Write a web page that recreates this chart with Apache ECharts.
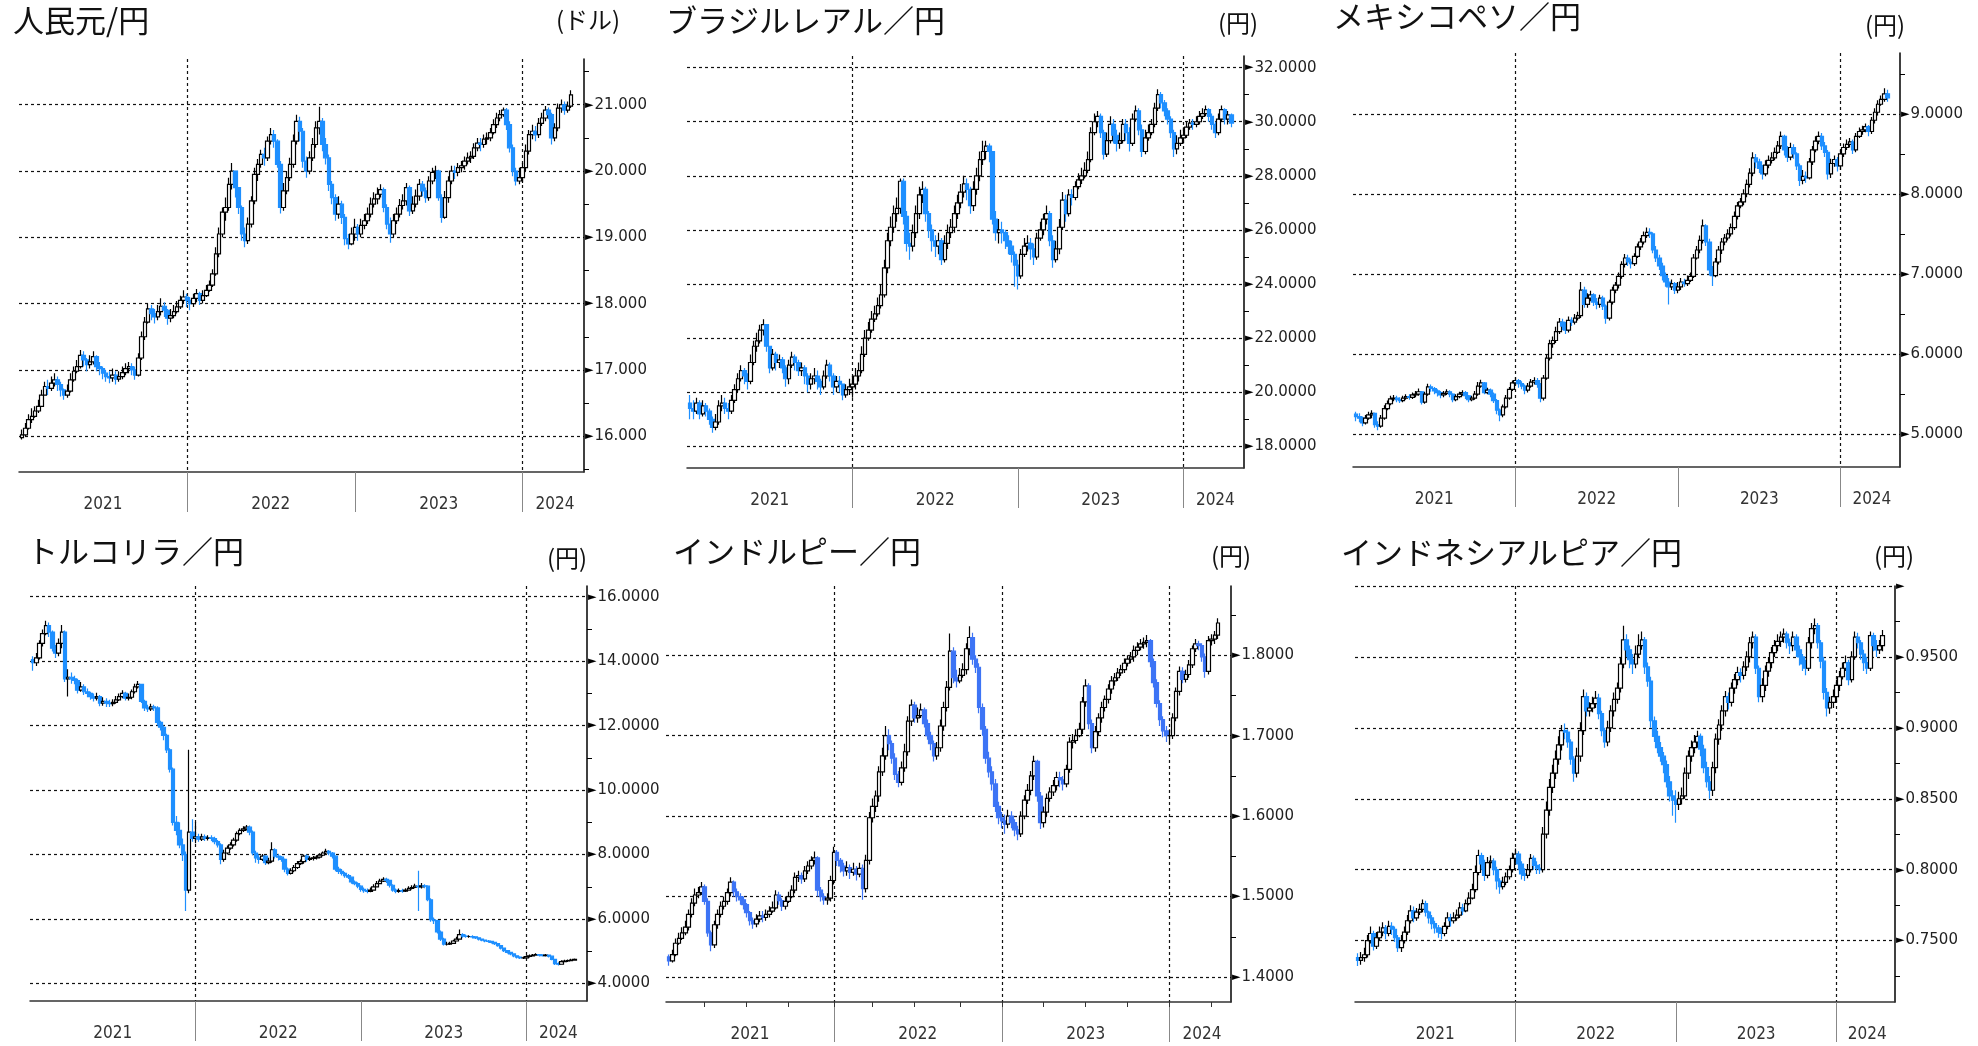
<!DOCTYPE html>
<html><head><meta charset="utf-8">
<script src="https://cdn.jsdelivr.net/npm/echarts@6/dist/echarts.min.js"></script>
<style>html,body{margin:0;padding:0;background:#fff}#c{width:1978px;height:1046px}</style>
</head><body><div id="c"></div>
<script>
// ---------- tick labels / categories ----------
const yearLabels = ['2021', '2022', '2023', '2024'];
const firstWeek = '2021-01-08';   // leading empty week, data starts 2021-01-15 (weekly, Fridays)
const weekCount = 176;            // 1 empty + 171 data weeks + 4 empty

// ---------- 人民元/円 ----------
const cnyOpen0 = 15.98;
const cnyClose = [
16.02,16.12,16.25,16.30,16.38,16.45,16.62,16.75,16.72,16.80,16.85,16.78,16.70,16.62,16.68,16.85,16.98,17.05,17.22,17.15,17.08,17.12,17.20,17.05,17.02,16.95,16.90,16.88,16.92,16.86,16.90,16.96,17.02,17.05,17.00,16.92,17.18,17.50,17.72,17.92,17.85,17.80,17.88,17.96,17.90,17.78,17.82,17.88,17.95,18.05,18.10,
18.05,18.00,18.08,18.15,18.05,18.12,18.20,18.28,18.45,18.75,19.05,19.38,19.45,19.80,20.00,19.75,19.45,19.05,18.95,19.20,19.55,19.95,20.10,20.25,20.20,20.45,20.55,20.45,20.10,19.45,19.70,19.90,20.10,20.45,20.75,20.60,20.15,20.00,20.20,20.40,20.65,20.75,20.40,20.20,19.80,19.60,19.35,19.50,19.30,18.98,18.90,19.05,
19.15,19.05,19.18,19.25,19.35,19.50,19.58,19.65,19.72,19.45,19.20,19.05,19.25,19.35,19.48,19.55,19.75,19.40,19.50,19.62,19.80,19.70,19.60,19.85,19.98,20.00,19.60,19.30,19.60,19.85,20.00,19.98,20.05,20.08,20.15,20.20,20.22,20.35,20.42,20.40,20.48,20.50,20.58,20.70,20.80,20.85,20.92,20.70,20.35,20.00,19.85,19.90,
20.05,20.30,20.55,20.60,20.55,20.72,20.80,20.92,20.85,20.50,20.65,20.95,21.00,20.92,20.98,21.15];
const cnyHigh = [
16.10,16.20,16.33,16.42,16.45,16.55,16.70,16.82,16.85,16.90,16.95,16.90,16.82,16.72,16.78,16.95,17.05,17.15,17.30,17.28,17.18,17.22,17.28,17.22,17.12,17.05,17.00,16.98,17.02,16.98,16.98,17.05,17.10,17.12,17.10,17.05,17.25,17.58,17.80,18.00,17.98,17.92,17.98,18.08,18.02,17.92,17.92,17.98,18.04,18.12,18.20,
18.15,18.10,18.15,18.22,18.18,18.20,18.28,18.35,18.52,18.85,19.15,19.45,19.60,19.90,20.12,19.90,19.70,19.48,19.15,19.30,19.62,20.05,20.18,20.32,20.35,20.52,20.65,20.62,20.48,20.15,19.82,20.00,20.20,20.55,20.85,20.82,20.65,20.22,20.30,20.50,20.75,20.97,20.80,20.50,20.25,19.85,19.65,19.62,19.55,19.35,19.05,19.15,
19.28,19.20,19.28,19.35,19.45,19.60,19.68,19.75,19.80,19.75,19.50,19.30,19.35,19.45,19.58,19.65,19.82,19.78,19.62,19.72,19.88,19.85,19.75,19.92,20.05,20.08,20.02,19.65,19.70,19.92,20.08,20.08,20.12,20.15,20.22,20.28,20.30,20.42,20.50,20.50,20.55,20.58,20.65,20.78,20.88,20.92,20.96,20.95,20.75,20.40,20.05,20.05,
20.12,20.40,20.62,20.70,20.68,20.80,20.88,20.98,20.96,20.88,20.72,21.02,21.08,21.05,21.05,21.22];
const cnyLow = [
15.95,16.00,16.10,16.20,16.28,16.35,16.45,16.62,16.62,16.68,16.75,16.68,16.60,16.55,16.58,16.66,16.82,16.95,17.02,17.05,16.98,17.02,17.08,16.98,16.92,16.86,16.82,16.80,16.82,16.78,16.82,16.86,16.92,16.95,16.92,16.85,16.90,17.15,17.45,17.70,17.75,17.70,17.75,17.82,17.80,17.68,17.72,17.78,17.85,17.92,18.00,
17.95,17.90,17.95,18.02,17.98,18.00,18.10,18.18,18.25,18.42,18.70,19.00,19.25,19.40,19.72,19.60,19.35,18.95,18.85,18.90,19.15,19.50,19.85,20.05,20.08,20.15,20.40,20.35,20.05,19.36,19.40,19.65,19.85,20.05,20.40,20.45,20.05,19.90,19.95,20.15,20.35,20.55,20.30,20.10,19.70,19.50,19.25,19.28,19.20,18.88,18.82,18.88,
18.95,18.95,19.00,19.12,19.20,19.30,19.45,19.50,19.60,19.38,19.12,18.92,19.00,19.20,19.30,19.42,19.48,19.32,19.35,19.45,19.55,19.62,19.52,19.55,19.80,19.88,19.55,19.22,19.28,19.52,19.80,19.88,19.92,19.98,20.02,20.10,20.12,20.18,20.30,20.30,20.35,20.40,20.45,20.55,20.65,20.75,20.82,20.62,20.28,19.92,19.78,19.80,
19.82,20.00,20.25,20.48,20.45,20.50,20.68,20.75,20.78,20.40,20.45,20.60,20.88,20.85,20.88,20.95];

// ---------- ブラジルレアル／円 ----------
const brlOpen0 = 19.6;
const brlClose = [
19.4,19.3,19.6,19.2,19.5,19.3,19.0,18.7,18.9,19.5,19.6,19.4,19.3,19.7,20.1,20.5,20.8,20.6,20.4,21.1,21.7,21.9,22.3,22.5,21.7,20.9,21.4,21.1,21.2,20.9,20.5,21.0,21.3,21.1,20.8,20.9,20.6,20.3,20.5,20.6,20.4,20.2,20.6,21.0,20.6,20.2,20.4,20.3,19.9,20.1,20.2,
20.3,20.6,20.8,21.4,22.0,22.3,22.7,22.9,23.2,23.6,24.6,25.6,26.1,26.6,26.8,27.8,26.5,25.5,25.4,25.9,26.6,27.3,27.5,26.6,26.0,25.6,25.4,25.6,24.9,25.5,25.9,26.1,26.6,27.0,27.4,27.7,27.5,26.9,27.5,28.0,28.6,28.9,29.1,28.9,26.4,25.9,26.0,25.9,25.6,25.4,25.1,24.7,
24.3,25.1,25.4,25.5,25.3,25.0,25.7,26.0,26.4,26.6,25.6,24.9,25.3,26.1,27.1,26.6,27.3,27.2,27.6,27.85,28.0,28.2,28.6,29.6,30.0,30.2,29.6,28.8,29.3,29.9,29.5,29.2,29.3,29.9,29.6,29.2,30.1,30.4,29.7,28.9,29.4,29.6,29.9,30.5,31.0,30.7,30.4,30.1,29.6,29.0,29.2,29.4,
29.5,29.8,29.95,29.9,30.0,30.2,30.3,30.45,30.2,29.9,29.6,30.1,30.45,30.1,30.25,29.95];
const brlHigh = [
19.9,19.7,19.8,19.7,19.7,19.6,19.4,19.1,19.2,19.7,19.9,19.8,19.6,19.9,20.3,20.7,21.0,20.9,20.7,21.4,21.9,22.2,22.5,22.7,22.5,21.7,21.6,21.5,21.4,21.3,21.0,21.2,21.5,21.4,21.2,21.1,21.0,20.7,20.7,20.9,20.8,20.5,20.8,21.2,21.1,20.7,20.6,20.6,20.3,20.3,20.5,
20.6,20.9,21.1,21.7,22.3,22.6,23.0,23.2,23.5,24.0,24.9,25.9,26.5,26.9,27.2,27.9,27.9,26.7,25.9,26.2,26.9,27.6,27.8,27.6,26.7,26.2,25.8,25.9,25.7,25.8,26.2,26.4,26.9,27.3,27.7,28.0,27.9,27.6,27.8,28.3,28.9,29.3,29.3,29.2,28.9,26.7,26.4,26.3,26.0,25.8,25.6,25.2,
24.9,25.3,25.7,25.8,25.7,25.5,25.9,26.3,26.6,26.9,26.7,25.8,25.6,26.4,27.4,27.3,27.5,27.5,27.8,28.1,28.3,28.5,28.9,29.8,30.3,30.4,30.3,29.7,29.6,30.2,30.1,29.7,29.6,30.1,30.1,29.8,30.3,30.6,30.5,29.9,29.7,29.9,30.1,30.7,31.2,31.1,30.8,30.5,30.2,29.7,29.5,29.7,
29.8,30.0,30.1,30.1,30.2,30.4,30.5,30.6,30.5,30.3,30.0,30.3,30.6,30.5,30.4,30.3];
const brlLow = [
19.0,19.0,19.2,19.0,19.1,19.1,18.8,18.5,18.6,18.8,19.3,19.2,19.0,19.2,19.6,20.0,20.4,20.3,20.1,20.3,21.0,21.5,21.8,22.1,21.5,20.7,20.8,20.8,20.9,20.7,20.2,20.3,20.9,20.8,20.6,20.6,20.3,20.0,20.1,20.3,20.1,19.9,20.1,20.5,20.4,19.9,20.0,20.0,19.7,19.8,19.9,
19.8,20.1,20.4,20.7,21.3,21.9,22.2,22.6,22.8,23.1,23.5,24.4,25.4,25.9,26.3,26.6,26.2,25.2,24.9,25.2,25.7,26.4,27.0,26.3,25.7,25.2,25.0,25.1,24.7,24.8,25.3,25.7,25.9,26.4,26.8,27.2,27.1,26.6,26.7,27.3,27.8,28.4,28.6,28.5,26.2,25.6,25.5,25.5,25.3,25.1,24.8,23.9,
23.8,24.2,25.0,25.2,24.9,24.7,24.9,25.6,25.8,26.2,25.4,24.6,24.8,25.1,26.0,26.3,26.5,26.9,27.1,27.5,27.7,27.9,28.1,28.5,29.5,29.8,29.4,28.6,28.7,29.2,29.2,28.9,29.0,29.2,29.3,28.9,29.1,30.0,29.5,28.7,28.8,29.3,29.5,29.8,30.4,30.5,30.2,29.9,29.4,28.7,28.8,29.1,
29.2,29.4,29.7,29.7,29.8,29.9,30.1,30.2,30.0,29.7,29.4,29.5,30.0,29.9,29.9,29.8];

// ---------- メキシコペソ／円 ----------
const mxnOpen0 = 5.25;
const mxnClose = [
5.22,5.20,5.14,5.20,5.24,5.26,5.12,5.10,5.20,5.32,5.38,5.44,5.45,5.43,5.42,5.45,5.47,5.46,5.49,5.50,5.53,5.40,5.50,5.59,5.57,5.54,5.52,5.49,5.51,5.53,5.50,5.43,5.47,5.50,5.52,5.48,5.43,5.45,5.50,5.60,5.64,5.52,5.55,5.50,5.42,5.30,5.24,5.34,5.45,5.56,5.64,
5.67,5.63,5.60,5.55,5.60,5.65,5.67,5.62,5.45,5.70,5.95,6.13,6.17,6.28,6.40,6.35,6.30,6.42,6.40,6.45,6.48,6.80,6.62,6.70,6.74,6.65,6.62,6.70,6.60,6.45,6.65,6.80,6.86,6.97,7.12,7.20,7.15,7.13,7.22,7.34,7.40,7.48,7.52,7.50,7.30,7.20,7.10,6.98,6.90,6.84,6.88,6.80,
6.84,6.90,6.88,6.92,6.97,7.20,7.30,7.42,7.60,7.40,7.05,6.98,7.15,7.30,7.40,7.45,7.50,7.58,7.72,7.85,7.90,8.00,8.12,8.26,8.45,8.40,8.32,8.25,8.36,8.42,8.45,8.52,8.60,8.72,8.55,8.46,8.58,8.50,8.35,8.17,8.22,8.20,8.40,8.55,8.66,8.72,8.60,8.52,8.25,8.38,8.43,8.35,
8.50,8.58,8.62,8.65,8.55,8.72,8.78,8.80,8.84,8.78,8.92,9.02,9.12,9.18,9.25,9.20];
const mxnHigh = [
5.28,5.26,5.22,5.24,5.28,5.30,5.27,5.16,5.24,5.36,5.42,5.48,5.49,5.48,5.46,5.48,5.50,5.50,5.52,5.54,5.57,5.54,5.53,5.63,5.62,5.59,5.56,5.54,5.54,5.56,5.55,5.51,5.50,5.53,5.55,5.54,5.49,5.48,5.54,5.65,5.68,5.65,5.58,5.57,5.52,5.44,5.32,5.37,5.49,5.59,5.67,
5.71,5.69,5.66,5.62,5.64,5.69,5.71,5.70,5.64,5.74,6.00,6.18,6.22,6.34,6.45,6.44,6.40,6.47,6.46,6.50,6.53,6.90,6.84,6.76,6.79,6.76,6.70,6.74,6.73,6.62,6.68,6.84,6.90,7.02,7.16,7.25,7.24,7.19,7.26,7.38,7.45,7.53,7.58,7.57,7.52,7.35,7.24,7.14,7.02,6.95,6.93,6.90,
6.90,6.95,6.94,6.98,7.02,7.25,7.35,7.48,7.68,7.62,7.44,7.10,7.20,7.35,7.45,7.50,7.56,7.63,7.78,7.90,7.95,8.06,8.18,8.32,8.52,8.50,8.44,8.36,8.42,8.48,8.52,8.58,8.66,8.78,8.74,8.60,8.64,8.62,8.52,8.38,8.30,8.28,8.45,8.60,8.72,8.78,8.76,8.65,8.55,8.44,8.48,8.46,
8.55,8.63,8.68,8.70,8.68,8.76,8.83,8.85,8.88,8.86,8.96,9.07,9.17,9.23,9.32,9.30];
const mxnLow = [
5.16,5.15,5.10,5.12,5.18,5.20,5.08,5.05,5.08,5.18,5.30,5.36,5.41,5.40,5.39,5.40,5.43,5.43,5.44,5.46,5.48,5.37,5.38,5.48,5.53,5.50,5.47,5.45,5.46,5.49,5.46,5.40,5.41,5.45,5.48,5.44,5.40,5.41,5.43,5.48,5.58,5.50,5.50,5.46,5.39,5.25,5.16,5.21,5.32,5.43,5.54,
5.62,5.58,5.56,5.50,5.52,5.58,5.62,5.58,5.40,5.42,5.68,5.92,6.08,6.14,6.25,6.30,6.25,6.27,6.35,6.37,6.42,6.45,6.58,6.58,6.66,6.60,6.56,6.58,6.55,6.38,6.42,6.62,6.76,6.82,6.94,7.08,7.10,7.07,7.10,7.20,7.30,7.37,7.45,7.45,7.26,7.15,7.05,6.92,6.84,6.62,6.80,6.75,
6.76,6.80,6.84,6.85,6.90,6.95,7.18,7.26,7.38,7.35,6.98,6.85,6.96,7.12,7.25,7.36,7.42,7.47,7.55,7.68,7.82,7.86,7.96,8.08,8.22,8.32,8.26,8.18,8.22,8.32,8.38,8.42,8.50,8.56,8.48,8.40,8.42,8.44,8.30,8.10,8.12,8.14,8.18,8.36,8.52,8.62,8.55,8.46,8.18,8.20,8.34,8.28,
8.30,8.46,8.55,8.58,8.50,8.52,8.70,8.74,8.77,8.72,8.75,8.88,8.98,9.10,9.15,9.15];

// ---------- トルコリラ／円 ----------
const tryOpen0 = 14.05;
const tryClose = [
13.95,14.10,14.55,14.85,15.10,14.90,14.40,14.25,14.55,14.90,13.45,13.50,13.45,13.40,13.10,13.20,13.05,13.00,12.90,12.85,12.90,12.70,12.75,12.70,12.68,12.72,12.80,12.90,13.00,12.85,12.88,13.05,13.20,13.28,12.75,12.55,12.52,12.58,12.55,12.10,11.95,11.70,11.25,10.65,9.00,8.75,8.30,8.00,6.90,8.70,8.50,
8.55,8.48,8.55,8.50,8.52,8.50,8.40,8.30,7.85,8.05,8.20,8.30,8.45,8.65,8.75,8.80,8.85,8.70,8.05,7.90,7.85,7.95,7.75,7.80,8.15,7.95,7.92,7.85,7.55,7.42,7.50,7.60,7.72,7.78,7.95,7.85,7.88,7.90,7.92,7.98,8.05,8.10,8.05,7.95,7.55,7.48,7.42,7.35,7.30,7.15,7.10,7.02,
6.92,6.88,6.86,6.90,7.00,7.10,7.18,7.23,7.20,7.05,6.90,6.86,6.88,6.87,6.90,6.95,6.98,7.02,7.00,7.03,7.02,6.60,5.98,5.95,5.60,5.38,5.22,5.22,5.25,5.32,5.38,5.52,5.47,5.46,5.46,5.45,5.42,5.38,5.35,5.32,5.31,5.28,5.24,5.18,5.10,5.02,4.97,4.92,4.86,4.82,4.80,4.80,
4.84,4.86,4.88,4.90,4.88,4.87,4.88,4.85,4.75,4.62,4.60,4.68,4.70,4.71,4.73,4.75];
const tryHigh = [
14.15,14.25,14.65,14.98,15.25,15.20,14.95,14.50,14.70,15.12,14.95,13.75,13.65,13.55,13.45,13.35,13.28,13.15,13.05,13.00,13.02,12.95,12.88,12.85,12.80,12.82,12.92,13.00,13.10,13.05,13.00,13.12,13.30,13.38,13.30,12.80,12.65,12.68,12.65,12.60,12.15,12.00,11.75,11.30,10.70,9.20,9.00,8.50,8.10,11.25,9.10,
9.00,8.65,8.65,8.62,8.60,8.60,8.55,8.45,8.35,8.15,8.28,8.38,8.52,8.72,8.82,8.88,8.92,8.90,8.75,8.12,8.00,8.02,7.98,7.90,8.38,8.20,8.02,7.96,7.88,7.60,7.58,7.68,7.80,7.85,8.00,8.00,7.95,7.96,7.98,8.04,8.10,8.18,8.14,8.08,7.98,7.62,7.55,7.46,7.40,7.32,7.20,7.14,
7.05,6.98,6.95,6.98,7.08,7.18,7.25,7.30,7.28,7.22,7.08,6.95,6.95,6.94,6.96,7.02,7.05,7.10,7.50,7.12,7.08,7.05,6.65,6.05,5.98,5.65,5.42,5.30,5.30,5.36,5.45,5.68,5.56,5.52,5.50,5.50,5.47,5.44,5.40,5.37,5.35,5.33,5.30,5.26,5.20,5.12,5.04,4.98,4.94,4.88,4.85,4.84,
4.88,4.90,4.92,4.94,4.92,4.91,4.92,4.90,4.87,4.77,4.66,4.72,4.74,4.75,4.77,4.78];
const tryLow = [
13.70,13.85,14.05,14.45,14.80,14.75,14.30,14.10,14.15,14.40,13.35,12.90,13.30,13.28,13.00,13.05,12.95,12.88,12.80,12.75,12.78,12.60,12.62,12.58,12.58,12.60,12.68,12.76,12.85,12.78,12.78,12.82,13.00,13.15,12.70,12.45,12.42,12.45,12.45,12.00,11.85,11.55,11.15,10.55,8.90,8.60,8.20,7.80,6.25,6.80,8.40,
8.35,8.40,8.42,8.42,8.44,8.42,8.32,8.22,7.70,7.78,8.00,8.15,8.25,8.40,8.60,8.70,8.75,8.60,7.98,7.75,7.72,7.80,7.68,7.70,7.75,7.88,7.82,7.78,7.45,7.35,7.38,7.45,7.55,7.68,7.72,7.78,7.80,7.82,7.85,7.88,7.95,8.00,7.98,7.88,7.48,7.40,7.35,7.28,7.24,7.10,7.05,6.96,
6.85,6.82,6.80,6.83,6.88,6.98,7.08,7.15,7.12,6.98,6.85,6.80,6.82,6.82,6.84,6.88,6.92,6.96,6.25,6.95,6.96,6.55,5.92,5.85,5.55,5.32,5.18,5.18,5.20,5.24,5.32,5.42,5.42,5.42,5.42,5.40,5.38,5.34,5.31,5.28,5.27,5.24,5.20,5.14,5.06,4.98,4.93,4.88,4.82,4.78,4.76,4.76,
4.77,4.81,4.84,4.86,4.84,4.84,4.84,4.81,4.72,4.58,4.56,4.59,4.66,4.67,4.69,4.71];

// ---------- インドルピー／円 ----------
const inrOpen0 = 1.425;
const inrClose = [
1.420,1.428,1.442,1.448,1.455,1.462,1.478,1.492,1.502,1.505,1.512,1.494,1.455,1.440,1.465,1.478,1.488,1.494,1.505,1.518,1.506,1.500,1.496,1.490,1.480,1.470,1.466,1.472,1.476,1.474,1.478,1.482,1.486,1.502,1.495,1.488,1.494,1.500,1.508,1.524,1.526,1.522,1.532,1.538,1.545,1.548,1.508,1.500,1.496,1.498,1.520,
1.555,1.545,1.538,1.532,1.536,1.530,1.534,1.528,1.535,1.510,1.545,1.598,1.612,1.625,1.655,1.675,1.700,1.690,1.672,1.652,1.642,1.660,1.680,1.718,1.738,1.722,1.725,1.732,1.715,1.700,1.690,1.675,1.685,1.712,1.735,1.760,1.805,1.772,1.768,1.775,1.782,1.808,1.822,1.795,1.785,1.735,1.708,1.672,1.655,1.640,1.612,1.598,
1.594,1.590,1.600,1.592,1.583,1.578,1.600,1.620,1.632,1.650,1.668,1.625,1.592,1.605,1.622,1.630,1.638,1.648,1.645,1.640,1.658,1.692,1.694,1.700,1.708,1.742,1.762,1.715,1.685,1.705,1.722,1.735,1.745,1.758,1.768,1.772,1.778,1.782,1.790,1.795,1.798,1.806,1.810,1.814,1.816,1.818,1.792,1.766,1.740,1.720,1.706,1.700,
1.700,1.722,1.755,1.780,1.770,1.776,1.788,1.808,1.814,1.812,1.798,1.780,1.818,1.820,1.825,1.840];
const inrHigh = [
1.428,1.434,1.448,1.455,1.462,1.470,1.484,1.498,1.510,1.512,1.518,1.515,1.498,1.458,1.470,1.484,1.494,1.500,1.510,1.524,1.520,1.510,1.504,1.500,1.492,1.482,1.474,1.478,1.482,1.482,1.484,1.488,1.494,1.508,1.506,1.498,1.500,1.506,1.514,1.530,1.532,1.530,1.538,1.544,1.550,1.556,1.550,1.512,1.504,1.504,1.526,
1.562,1.558,1.548,1.542,1.544,1.540,1.542,1.538,1.542,1.540,1.552,1.605,1.622,1.632,1.662,1.685,1.712,1.708,1.694,1.678,1.656,1.668,1.690,1.724,1.745,1.742,1.735,1.740,1.735,1.720,1.705,1.694,1.692,1.720,1.742,1.768,1.827,1.810,1.782,1.784,1.790,1.815,1.836,1.828,1.800,1.790,1.740,1.712,1.680,1.662,1.646,1.618,
1.605,1.602,1.608,1.606,1.596,1.588,1.606,1.626,1.640,1.656,1.675,1.670,1.630,1.612,1.628,1.636,1.645,1.655,1.655,1.650,1.664,1.698,1.702,1.708,1.716,1.748,1.770,1.765,1.720,1.712,1.728,1.742,1.750,1.764,1.774,1.778,1.784,1.788,1.796,1.800,1.804,1.812,1.816,1.820,1.822,1.825,1.820,1.796,1.770,1.744,1.724,1.712,
1.708,1.728,1.760,1.786,1.785,1.782,1.794,1.812,1.820,1.818,1.815,1.802,1.824,1.826,1.830,1.846];
const inrLow = [
1.414,1.418,1.426,1.440,1.446,1.452,1.458,1.474,1.488,1.498,1.502,1.490,1.450,1.432,1.436,1.460,1.474,1.484,1.490,1.500,1.500,1.494,1.490,1.484,1.474,1.464,1.460,1.462,1.468,1.468,1.470,1.474,1.480,1.484,1.490,1.482,1.484,1.492,1.498,1.504,1.518,1.516,1.518,1.528,1.534,1.540,1.500,1.494,1.490,1.490,1.494,
1.515,1.538,1.530,1.525,1.526,1.522,1.526,1.520,1.524,1.496,1.505,1.540,1.592,1.605,1.618,1.650,1.670,1.682,1.665,1.645,1.636,1.638,1.655,1.675,1.712,1.716,1.716,1.722,1.710,1.695,1.682,1.668,1.670,1.680,1.706,1.730,1.756,1.765,1.760,1.765,1.772,1.776,1.800,1.788,1.778,1.728,1.700,1.665,1.648,1.632,1.605,1.590,
1.585,1.578,1.585,1.585,1.575,1.570,1.574,1.596,1.615,1.626,1.645,1.618,1.584,1.586,1.600,1.618,1.625,1.632,1.636,1.632,1.636,1.654,1.684,1.690,1.698,1.702,1.736,1.708,1.678,1.680,1.700,1.716,1.730,1.740,1.752,1.762,1.768,1.774,1.778,1.786,1.790,1.792,1.800,1.806,1.808,1.810,1.785,1.760,1.735,1.712,1.698,1.692,
1.690,1.696,1.718,1.750,1.765,1.766,1.772,1.784,1.804,1.806,1.792,1.772,1.776,1.812,1.814,1.820];

// ---------- インドネシアルピア／円 ----------
const idrOpen0 = 0.738;
const idrClose = [
0.736,0.738,0.740,0.750,0.755,0.746,0.752,0.756,0.759,0.755,0.760,0.758,0.752,0.745,0.750,0.756,0.764,0.771,0.766,0.770,0.772,0.776,0.770,0.766,0.762,0.759,0.756,0.755,0.760,0.766,0.764,0.766,0.768,0.773,0.771,0.776,0.780,0.786,0.798,0.810,0.804,0.796,0.805,0.806,0.800,0.792,0.788,0.791,0.795,0.800,0.808,
0.811,0.804,0.797,0.796,0.800,0.808,0.803,0.801,0.800,0.825,0.842,0.858,0.868,0.878,0.888,0.898,0.897,0.890,0.878,0.868,0.880,0.898,0.922,0.912,0.914,0.917,0.921,0.910,0.898,0.890,0.900,0.912,0.920,0.928,0.945,0.962,0.955,0.948,0.945,0.952,0.958,0.962,0.943,0.933,0.905,0.894,0.886,0.880,0.874,0.862,0.852,0.849,
0.846,0.850,0.852,0.868,0.880,0.886,0.890,0.894,0.885,0.872,0.862,0.856,0.872,0.892,0.902,0.912,0.922,0.918,0.928,0.934,0.939,0.937,0.943,0.950,0.960,0.964,0.942,0.922,0.930,0.940,0.946,0.953,0.958,0.961,0.964,0.966,0.960,0.958,0.964,0.955,0.950,0.945,0.942,0.960,0.970,0.972,0.960,0.947,0.925,0.914,0.918,0.922,
0.930,0.936,0.942,0.946,0.934,0.950,0.964,0.960,0.952,0.946,0.942,0.965,0.958,0.955,0.958,0.965];
const idrHigh = [
0.741,0.742,0.745,0.754,0.760,0.757,0.756,0.760,0.763,0.761,0.764,0.763,0.760,0.754,0.754,0.760,0.768,0.775,0.774,0.773,0.776,0.779,0.778,0.771,0.768,0.764,0.761,0.759,0.763,0.770,0.769,0.770,0.772,0.777,0.776,0.779,0.784,0.790,0.803,0.814,0.812,0.807,0.809,0.810,0.808,0.802,0.794,0.795,0.798,0.803,0.812,
0.815,0.813,0.806,0.801,0.804,0.811,0.810,0.806,0.804,0.830,0.848,0.864,0.874,0.884,0.894,0.902,0.903,0.899,0.892,0.880,0.886,0.904,0.927,0.925,0.918,0.922,0.926,0.924,0.912,0.900,0.905,0.916,0.925,0.932,0.950,0.972,0.966,0.958,0.952,0.958,0.966,0.968,0.964,0.946,0.936,0.908,0.898,0.890,0.883,0.877,0.866,0.856,
0.856,0.855,0.858,0.872,0.884,0.891,0.895,0.898,0.896,0.888,0.876,0.866,0.876,0.896,0.906,0.916,0.926,0.925,0.932,0.938,0.943,0.942,0.947,0.954,0.964,0.968,0.966,0.944,0.935,0.944,0.950,0.957,0.962,0.966,0.968,0.970,0.968,0.963,0.968,0.966,0.958,0.952,0.948,0.964,0.974,0.977,0.974,0.962,0.950,0.928,0.922,0.927,
0.934,0.940,0.946,0.951,0.948,0.954,0.968,0.967,0.962,0.955,0.950,0.968,0.967,0.962,0.962,0.969];
const idrLow = [
0.732,0.733,0.735,0.738,0.748,0.743,0.744,0.750,0.753,0.751,0.753,0.754,0.749,0.742,0.742,0.748,0.754,0.762,0.763,0.764,0.768,0.770,0.767,0.762,0.758,0.755,0.752,0.751,0.753,0.758,0.760,0.762,0.764,0.766,0.768,0.770,0.775,0.779,0.784,0.796,0.800,0.792,0.794,0.801,0.796,0.786,0.783,0.786,0.789,0.793,0.798,
0.805,0.800,0.793,0.792,0.794,0.798,0.800,0.797,0.797,0.798,0.822,0.838,0.854,0.864,0.874,0.884,0.892,0.886,0.874,0.862,0.865,0.876,0.895,0.908,0.908,0.911,0.914,0.906,0.894,0.886,0.887,0.897,0.908,0.917,0.925,0.942,0.950,0.942,0.938,0.942,0.950,0.955,0.938,0.929,0.900,0.890,0.882,0.876,0.868,0.858,0.848,0.838,
0.833,0.842,0.846,0.850,0.864,0.876,0.882,0.886,0.880,0.868,0.858,0.850,0.852,0.868,0.888,0.898,0.908,0.913,0.915,0.924,0.930,0.932,0.934,0.940,0.946,0.956,0.938,0.918,0.918,0.926,0.936,0.942,0.950,0.954,0.957,0.960,0.956,0.952,0.954,0.950,0.944,0.940,0.937,0.940,0.956,0.966,0.956,0.942,0.920,0.908,0.910,0.914,
0.918,0.926,0.934,0.940,0.930,0.932,0.948,0.956,0.948,0.940,0.938,0.940,0.954,0.950,0.952,0.954];

// ---------- build ----------
const cats = [];
{
  const t0 = Date.parse(firstWeek + 'T00:00:00Z');
  for (let i = 0; i < weekCount; i++) cats.push(new Date(t0 + i * 7 * 86400000).toISOString().slice(0, 10));
}
const yearStart = new Set(), quarterStart = new Set(), yearIdx = {};
for (let i = 1; i < cats.length; i++) {
  const y = cats[i].slice(0, 4), m = +cats[i].slice(5, 7);
  if (y !== cats[i - 1].slice(0, 4)) { yearStart.add(i); yearIdx[y] = i; }
  if (m !== +cats[i - 1].slice(5, 7) && (m - 1) % 3 === 0) quarterStart.add(i);
}
yearIdx[yearLabels[0]] = 0;
const labelIdx = new Set();
yearLabels.forEach((y, k) => {
  const s = yearIdx[y], e = k < yearLabels.length - 1 ? yearIdx[yearLabels[k + 1]] : cats.length - 1;
  labelIdx.add(Math.round((s + e) / 2));
});
const warn = [];
function candles(name, open0, close, low, high) {
  if (close.length !== 171 || low.length !== 171 || high.length !== 171) warn.push(name + ':' + close.length + '/' + low.length + '/' + high.length);
  const out = [['-', '-', '-', '-']];
  for (let i = 0; i < close.length; i++) {
    const o = i === 0 ? open0 : close[i - 1], c = close[i];
    out.push([o, c, Math.min(low[i], o, c), Math.max(high[i], o, c)]);
  }
  while (out.length < cats.length) out.push(['-', '-', '-', '-']);
  return out;
}

const panels = [
  { title: '人民元/円', unit: '(ドル)', data: candles('cny', cnyOpen0, cnyClose, cnyLow, cnyHigh),
    grid: [19, 59, 565, 413], ymin: 15.46, ymax: 21.69, step: 1, dec: 3, titlePos: [13, 5], unitPos: [556, 8], vYears: ['2022', '2024'], down: '#1e8fff' },
  { title: 'ブラジルレアル／円', unit: '(円)', data: candles('brl', brlOpen0, brlClose, brlLow, brlHigh),
    grid: [687, 56, 557, 412], ymin: 17.2, ymax: 32.43, step: 2, dec: 4, titlePos: [666, 5], unitPos: [1218, 11], vYears: ['2022', '2024'], down: '#1e8fff' },
  { title: 'メキシコペソ／円', unit: '(円)', data: candles('mxn', mxnOpen0, mxnClose, mxnLow, mxnHigh),
    grid: [1353, 53, 547, 414], ymin: 4.59, ymax: 9.76, step: 1, dec: 4, titlePos: [1333, 1], unitPos: [1865, 13], vYears: ['2022', '2024'], down: '#1e8fff' },
  { title: 'トルコリラ／円', unit: '(円)', data: candles('try', tryOpen0, tryClose, tryLow, tryHigh),
    grid: [30, 586, 557, 415], ymin: 3.46, ymax: 16.33, step: 2, dec: 4, titlePos: [27, 536], unitPos: [547, 546], vYears: ['2022', '2024'], down: '#1e8fff' },
  { title: 'インドルピー／円', unit: '(円)', data: candles('inr', inrOpen0, inrClose, inrLow, inrHigh),
    grid: [666, 586, 565, 416], ymin: 1.369, ymax: 1.886, step: 0.1, dec: 4, titlePos: [673, 536], unitPos: [1211, 544], vYears: ['2022', '2023', '2024'], down: '#3d74f5', quarters: true },
  { title: 'インドネシアルピア／円', unit: '(円)', data: candles('idr', idrOpen0, idrClose, idrLow, idrHigh),
    grid: [1355, 586, 540, 416], ymin: 0.7067, ymax: 1.0, step: 0.05, dec: 4, titlePos: [1341, 537], unitPos: [1874, 544], vYears: ['2022', '2024'], down: '#1e8fff', topLine: true }
];

const NUM_FONT = 'DejaVu Sans';
const YEAR_FONT = '"DejaVu Sans Condensed", "Liberation Sans", sans-serif';
const CJK_FONT = '"Noto Sans CJK JP", "Noto Sans CJK SC", sans-serif';
const dotted = { color: '#111', type: [3, 3], width: 1.2 };
const option = { animation: false, backgroundColor: '#fff', title: [], grid: [], xAxis: [], yAxis: [], series: [] };

panels.forEach((p, k) => {
  const vSet = new Set(p.vYears.map(y => yearIdx[y]));
  option.title.push({ text: p.title, left: p.titlePos[0], top: p.titlePos[1], padding: 0,
    textStyle: { fontFamily: CJK_FONT, fontSize: 31, fontWeight: 'normal', color: '#111' } });
  option.title.push({ text: p.unit, left: p.unitPos[0], top: p.unitPos[1], padding: 0,
    textStyle: { fontFamily: CJK_FONT, fontSize: 24, fontWeight: 'normal', color: '#111' } });
  option.grid.push({ left: p.grid[0], top: p.grid[1], width: p.grid[2], height: p.grid[3], containLabel: false });
  option.xAxis.push({
    gridIndex: k, type: 'category', data: cats, boundaryGap: false,
    axisLine: { show: true, onZero: false, lineStyle: { color: '#333', width: 1.5 } },
    axisTick: { show: true, interval: (i) => yearStart.has(i), length: 40, lineStyle: { color: '#888', width: 1 } },
    axisLabel: { show: true, interval: (i) => labelIdx.has(i), formatter: (v) => v.slice(0, 4), margin: 24,
      fontFamily: YEAR_FONT, fontSize: 17, color: '#333' },
    splitLine: { show: true, interval: (i) => vSet.has(i), lineStyle: dotted }
  });
  const step = p.step, dec = p.dec, top = !!p.topLine;
  option.yAxis.push({
    gridIndex: k, type: 'value', position: 'right', min: p.ymin, max: p.ymax, minInterval: step, maxInterval: step, splitNumber: 6,
    axisLine: { show: true, lineStyle: { color: '#000', width: 1.5 } },
    axisTick: { show: false },
    minorTick: { show: true, splitNumber: 2, length: 5, lineStyle: { color: '#000', width: 1 } },
    minorSplitLine: { show: false },
    splitLine: { show: true, showMinLine: false, showMaxLine: top, lineStyle: dotted },
    axisLabel: { show: true, margin: 1, showMinLabel: false, showMaxLabel: top,
      formatter: (v) => {
        const r = v / step;
        if (Math.abs(r - Math.round(r)) > 1e-6) return '';
        if (top && Math.abs(v - p.ymax) < 1e-9) return '{t|►}';
        return '{t|►}{n|' + v.toFixed(dec) + '}';
      },
      rich: { t: { fontSize: 11, color: '#000', fontFamily: NUM_FONT, padding: [0, 1, 0, 0] },
              n: { fontSize: 15, color: '#222', fontFamily: NUM_FONT } } }
  });
  option.series.push({
    type: 'candlestick', xAxisIndex: k, yAxisIndex: k, data: p.data, barWidth: 4, large: false,
    itemStyle: { color: '#ffffff', color0: p.down, borderColor: '#000', borderColor0: p.down, borderWidth: 1.2 }
  });
});

// quarter ticks overlay for インドルピー panel
panels.forEach((p, k) => {
  if (!p.quarters) return;
  const gi = option.grid.length;
  option.grid.push({ left: p.grid[0], top: p.grid[1], width: p.grid[2], height: p.grid[3], containLabel: false });
  option.xAxis.push({ gridIndex: gi, type: 'category', data: cats, boundaryGap: false,
    axisLine: { show: false, onZero: false }, axisLabel: { show: false }, splitLine: { show: false },
    axisTick: { show: true, interval: (i) => quarterStart.has(i), length: 5, lineStyle: { color: '#333', width: 1 } } });
  option.yAxis.push({ gridIndex: gi, type: 'value', show: false, min: 0, max: 1 });
});

if (warn.length) option.title.push({ text: 'LEN ' + warn.join(' '), left: 700, top: 500, textStyle: { color: 'red', fontSize: 12 } });

const chart = echarts.init(document.getElementById('c'), null, { renderer: 'canvas' });
chart.setOption(option);
</script>
</body></html>
